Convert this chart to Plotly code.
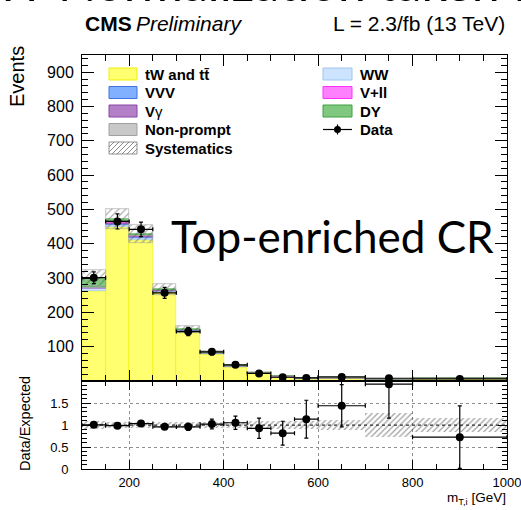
import plotly.graph_objects as go

# ---------------- data ----------------
bin_lo = [100, 150, 200, 250, 300, 350, 400, 450, 500, 550, 600, 700, 800]
bin_hi = [150, 200, 250, 300, 350, 400, 450, 500, 550, 600, 700, 800, 1000]

tw_tt      = [262, 448, 412, 258, 143, 79, 42, 22, 12.3, 7.2, 7.6, 3.6, 7.5]
ww         = [8, 8, 6, 5, 4, 2.5, 1.5, 1.0, 0.6, 0.4, 0.4, 0.3, 0.5]
vvv        = [0.5, 1, 1, 0.5, 0.3, 0.2, 0.1, 0.1, 0.1, 0.05, 0.05, 0.05, 0.05]
vgamma     = [1, 4, 3, 1, 0.5, 0.3, 0.2, 0.1, 0.1, 0.05, 0.05, 0.05, 0.05]
vll        = [0.5, 1, 1, 0.5, 0.3, 0.2, 0.1, 0.1, 0.1, 0.05, 0.05, 0.05, 0.05]
nonprompt  = [2, 4, 2, 1, 1, 0.5, 0.5, 0.3, 0.2, 0.1, 0.1, 0.05, 0.1]
dy         = [26, 6, 3, 2, 1, 0.5, 0.3, 0.2, 0.1, 0.1, 0.1, 0.05, 0.05]

data_obs   = [301, 465, 442, 257, 144, 85, 47, 22, 11, 9, 12, 8, 6]
data_err   = [17, 22, 21, 16, 12, 9, 7, 5, 3.5, 3, 3.5, 3, 2.5]
ratio_err  = [0.06, 0.05, 0.05, 0.06, 0.08, 0.11, 0.15, 0.23, 0.27, 0.43, 0.48, 0.77, 0.71]
syst_rel   = [0.08, 0.06, 0.06, 0.06, 0.06, 0.06, 0.07, 0.08, 0.09, 0.10, 0.12, 0.28, 0.17]

x_ticks_ratio = [200, 400, 600, 800, 1000]
y_ticks_main = [0, 100, 200, 300, 400, 500, 600, 700, 800, 900]
y_ticks_ratio = [0, 0.5, 1, 1.5]

# ---------------- derived ----------------
centers = [(a + b) / 2 for a, b in zip(bin_lo, bin_hi)]
widths = [b - a for a, b in zip(bin_lo, bin_hi)]
halfw = [w / 2 for w in widths]

components = [
    (tw_tt, "#ffff70", "#f0f000"),
    (ww, "#cce4ff", "#9fc4ec"),
    (vvv, "#80b0ff", "#3f73e0"),
    (vgamma, "#b380c8", "#8a45a8"),
    (vll, "#ff80ff", "#ff30ff"),
    (nonprompt, "#c8c8c8", "#a0a0a0"),
    (dy, "#80c880", "#3ea03e"),
]

fig = go.Figure()
base = [0.0] * len(centers)
for vals, fill, edge in components:
    fig.add_trace(go.Bar(x=centers, y=vals, base=list(base), width=widths,
                         marker=dict(color=fill, line=dict(color=edge, width=0.6)),
                         xaxis="x", yaxis="y", showlegend=False))
    base = [b + v for b, v in zip(base, vals)]
total = base

syst_abs = [t * r for t, r in zip(total, syst_rel)]
hatch = dict(shape="/", fgcolor="#505050", bgcolor="rgba(0,0,0,0)", size=5,
             solidity=0.22, fillmode="overlay")
fig.add_trace(go.Bar(x=centers, y=[2 * s for s in syst_abs],
                     base=[t - s for t, s in zip(total, syst_abs)], width=widths,
                     marker=dict(color="rgba(0,0,0,0)", line=dict(color="#a0a0a0", width=0.6),
                                 pattern=hatch),
                     xaxis="x", yaxis="y", showlegend=False))

fig.add_trace(go.Scatter(x=centers, y=data_obs, mode="markers",
                         marker=dict(color="black", size=8),
                         error_y=dict(type="data", array=data_err, color="black", thickness=1.2, width=2),
                         error_x=dict(type="data", array=halfw, color="black", thickness=1.2, width=2),
                         xaxis="x", yaxis="y", showlegend=False))

# ratio panel
ratio = [d / t for d, t in zip(data_obs, total)]
fig.add_trace(go.Bar(x=centers, y=[2 * r for r in syst_rel],
                     base=[1 - r for r in syst_rel], width=widths,
                     marker=dict(color="rgba(0,0,0,0)", line=dict(width=0),
                                 pattern=dict(shape="/", fgcolor="#404040", bgcolor="rgba(0,0,0,0)",
                                              size=4, solidity=0.3, fillmode="overlay")),
                     xaxis="x2", yaxis="y2", showlegend=False))
fig.add_trace(go.Scatter(x=[bin_lo[0], bin_hi[-1]], y=[1, 1], mode="lines",
                         line=dict(color="#333", width=1, dash="dot"),
                         xaxis="x2", yaxis="y2", showlegend=False))
fig.add_trace(go.Scatter(x=centers, y=ratio, mode="markers",
                         marker=dict(color="black", size=8),
                         error_y=dict(type="data", array=ratio_err, color="black", thickness=1.2, width=2),
                         error_x=dict(type="data", array=halfw, color="black", thickness=1.2, width=2),
                         xaxis="x2", yaxis="y2", showlegend=False))

# ---------------- layout ----------------
W, H = 521, 510
PL, PR, PT, PB = 82, 507, 55, 469
def fx(px):
    return (px - PL) / (PR - PL)
def fy(py):
    return (PB - py) / (PB - PT)

split = fy(381)
FONT = "Liberation Sans"

axis_common = dict(showline=True, linecolor="black", linewidth=1, ticks="inside",
                   tickcolor="black", mirror="allticks", zeroline=False, automargin=False)

fig.update_layout(
    width=W, height=H, margin=dict(l=PL, r=W - PR, t=PT, b=H - PB, autoexpand=False),
    paper_bgcolor="white", plot_bgcolor="white", barmode="overlay", bargap=0,
    font=dict(family=FONT, color="black"),
    xaxis=dict(domain=[0, 1], range=[100, 1000], anchor="y", showticklabels=False,
               tickmode="array", tickvals=x_ticks_ratio, ticklen=11,
               minor=dict(tickmode="linear", tick0=100, dtick=50, ticklen=6, tickcolor="black", ticks="inside"),
               showgrid=False, **axis_common),
    yaxis=dict(domain=[split, 1], range=[0, 950], anchor="x",
               tickmode="array", tickvals=y_ticks_main,
               ticktext=["" if v == 0 else str(v) for v in y_ticks_main],
               ticklen=12, tickfont=dict(size=16), ticklabelstandoff=4,
               minor=dict(tickmode="linear", tick0=0, dtick=20, ticklen=6, tickcolor="black", ticks="inside"),
               showgrid=False, **axis_common),
    xaxis2=dict(domain=[0, 1], range=[100, 1000], anchor="y2", matches="x",
                tickmode="array", tickvals=x_ticks_ratio, ticktext=[str(v) for v in x_ticks_ratio],
                ticklen=9, tickfont=dict(size=13), ticklabelstandoff=1, ticklabeloverflow="allow",
                minor=dict(tickmode="linear", tick0=100, dtick=50, ticklen=5, tickcolor="black", ticks="inside"),
                showgrid=True, gridcolor="#909090", griddash="dot", gridwidth=1, **axis_common),
    yaxis2=dict(domain=[0, split], range=[0, 2], anchor="x2",
                tickmode="array", tickvals=y_ticks_ratio, ticktext=["0", "0.5", "1", "1.5"],
                ticklen=9, tickfont=dict(size=13), ticklabelstandoff=10,
                minor=dict(tickmode="linear", tick0=0, dtick=0.1, ticklen=5, tickcolor="black", ticks="inside"),
                showgrid=True, gridcolor="#909090", griddash="dot", gridwidth=1, **axis_common),
)

ann = []
def text(px, py, s, size, xanchor="left", yanchor="middle", family=FONT, angle=0, color="black"):
    ann.append(dict(x=fx(px), y=fy(py), xref="paper", yref="paper", text=s, showarrow=False,
                    xanchor=xanchor, yanchor=yanchor, textangle=angle,
                    font=dict(family=family, size=size, color=color)))

# clipped slide title at very top (only the lower part of the glyphs shows)
text(-8, -18, "W Normalization taken from", 50, family="Lato")
text(83, 23, "<b>CMS</b>\u2009<i>Preliminary</i>", 21)
text(507, 23, "L = 2.3/fb (13 TeV)", 21, xanchor="right")
text(17, 77, "Events", 20, xanchor="center", angle=-90)
text(25, 424, "Data/Expected", 14.5, xanchor="center", angle=-90)
text(508, 498, "m<sub>T,i</sub> [GeV]", 13.5, xanchor="right")
text(332, 236, "Top-enriched CR", 44, xanchor="center", family="Lato")

# legend (manual, two columns)
shapes = []
def swatch(x0, x1, yc, fill, edge):
    shapes.append(dict(type="rect", xref="paper", yref="paper", x0=fx(x0), x1=fx(x1),
                       y0=fy(yc + 6), y1=fy(yc - 6), fillcolor=fill, line=dict(color=edge, width=1)))

rows = [74, 92.5, 111, 129.5, 148]
c1s, c1e, c1t = 109, 137, 143
c2s, c2e, c2t = 323, 352, 358
legend_left = [("<b>tW and tt\u0304</b>", components[0]), ("<b>VVV</b>", components[2]),
               ("<b>V</b>γ", components[3]), ("<b>Non-prompt</b>", components[5])]
legend_right = [("<b>WW</b>", components[1]), ("<b>V+ll</b>", components[4]), ("<b>DY</b>", components[6])]
for (lab, comp), yc in zip(legend_left, rows):
    swatch(c1s, c1e, yc, comp[1], comp[2])
    text(c1t, yc, lab, 15)
for (lab, comp), yc in zip(legend_right, rows):
    swatch(c2s, c2e, yc, comp[1], comp[2])
    text(c2t, yc, lab, 15)
# systematics hatch swatch
yc = rows[4]
shapes.append(dict(type="rect", xref="paper", yref="paper", x0=fx(c1s), x1=fx(c1e),
                   y0=fy(yc + 6), y1=fy(yc - 6), fillcolor="white", line=dict(color="#909090", width=1)))
for k in range(-12, 30, 5):
    xa, ya = c1s + k, yc + 6
    xb, yb = c1s + k + 12, yc - 6
    if xa < c1s:
        ya -= (c1s - xa); xa = c1s
    if xb > c1e:
        yb += (xb - c1e); xb = c1e
    if xb > xa:
        shapes.append(dict(type="line", xref="paper", yref="paper", x0=fx(xa), y0=fy(ya),
                           x1=fx(xb), y1=fy(yb), line=dict(color="#707070", width=0.8)))
text(c1t, yc, "<b>Systematics</b>", 15)
# data legend entry
yc = rows[3]
shapes.append(dict(type="line", xref="paper", yref="paper", x0=fx(c2s), x1=fx(c2e),
                   y0=fy(yc), y1=fy(yc), line=dict(color="black", width=1.2)))
shapes.append(dict(type="line", xref="paper", yref="paper", x0=fx(337.5), x1=fx(337.5),
                   y0=fy(yc - 5), y1=fy(yc + 5), line=dict(color="black", width=1.2)))
shapes.append(dict(type="circle", xref="paper", yref="paper", x0=fx(334), x1=fx(341),
                   y0=fy(yc + 3.5), y1=fy(yc - 3.5), fillcolor="black", line=dict(color="black", width=0)))
text(c2t, yc, "<b>Data</b>", 15)

fig.update_layout(annotations=ann, shapes=shapes)
fig.write_html("out.html")
